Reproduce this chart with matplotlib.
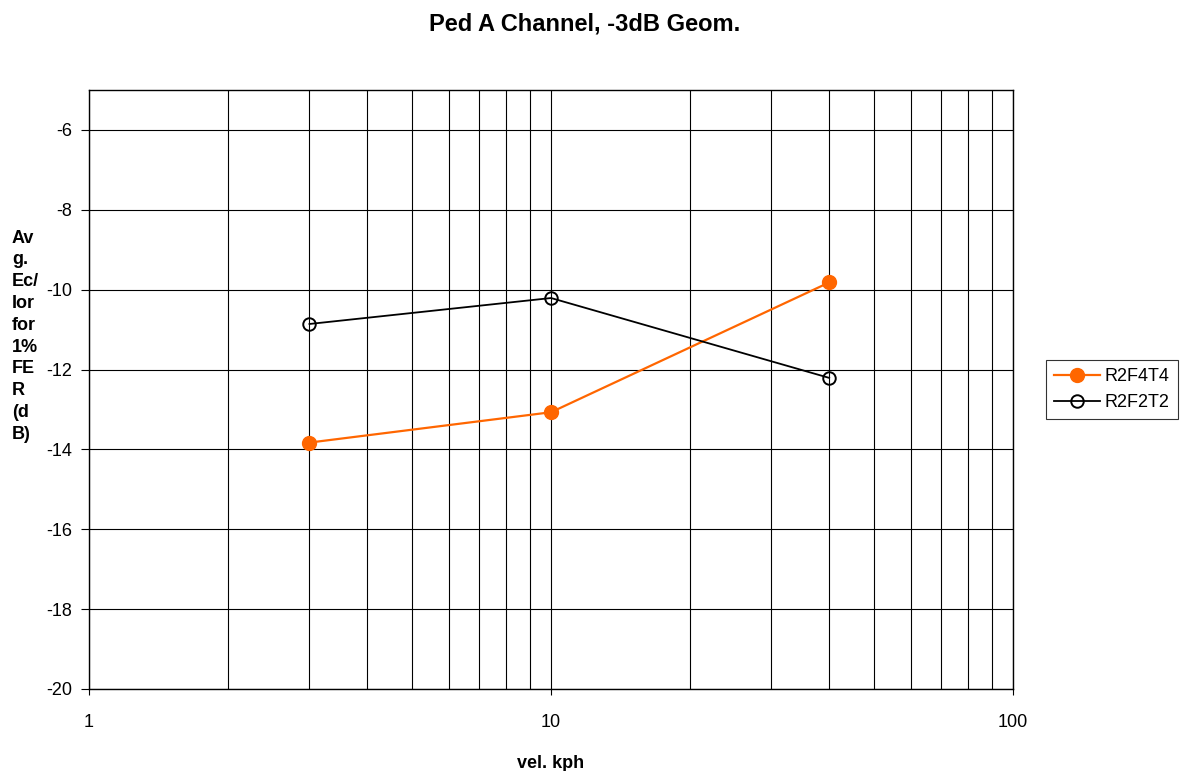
import matplotlib.pyplot as plt
from matplotlib.ticker import LogLocator, NullFormatter, FixedLocator

plt.rcParams['font.family'] = ['Liberation Sans', 'DejaVu Sans']
plt.rcParams['axes.unicode_minus'] = False

# vehicle speed (kph) and average Ec/Ior needed for 1% FER (dB)
speed_kph = [3, 10, 40]
r2f4t4 = [-13.83, -13.07, -9.82]
r2f2t2 = [-10.86, -10.21, -12.21]
y_ticks = [-20, -18, -16, -14, -12, -10, -8, -6]
x_ticks = [1, 10, 100]

fig = plt.figure(figsize=(11.84, 7.71), dpi=100)
ax = fig.add_axes([0.0752, 0.1064, 0.7804, 0.7769])

ax.plot(speed_kph, r2f4t4, '-o', color='#FF6600', lw=1.6, markersize=10,
        label='R2F4T4', zorder=3)
ax.plot(speed_kph, r2f2t2, '-o', color='black', lw=1.3, markersize=9,
        markerfacecolor='none', markeredgewidth=1.4, label='R2F2T2', zorder=3)

ax.set_xscale('log')
ax.set_xlim(1, 100)
ax.set_ylim(-20, -5)
ax.yaxis.set_major_locator(FixedLocator(y_ticks))
ax.xaxis.set_minor_locator(LogLocator(base=10, subs=range(2, 10)))
ax.xaxis.set_minor_formatter(NullFormatter())
ax.set_xticks(x_ticks)
ax.set_xticklabels([str(v) for v in x_ticks])

ax.grid(True, which='major', color='black', lw=0.8)
ax.grid(True, which='minor', axis='x', color='black', lw=0.8)
ax.tick_params(axis='y', which='major', length=6, width=0.8, labelsize=13, pad=6)
ax.tick_params(axis='x', which='major', length=4, width=0.8, labelsize=13, pad=14)
ax.tick_params(axis='x', which='minor', length=0)
for s in ax.spines.values():
    s.set_linewidth(1.0)

ax.set_xlabel('vel. kph', fontsize=13, fontweight='bold', labelpad=17)
fig.text(0.494, 0.969, 'Ped A Channel, -3dB Geom.', ha='center', va='center',
         fontsize=17, fontweight='bold')
fig.text(0.010, 0.564, 'Av\ng.\nEc/\nIor\nfor\n1%\nFE\nR\n(d\nB)',
         ha='left', va='center', fontsize=13, fontweight='bold', linespacing=1.37)

leg = ax.legend(loc='center left', bbox_to_anchor=(1.036, 0.5), fontsize=13,
                frameon=True, fancybox=False, edgecolor='black',
                borderpad=0.45, handlelength=2.5, handletextpad=0.3,
                labelspacing=0.5, borderaxespad=0)
leg.get_frame().set_linewidth(0.8)

fig.savefig('out.png', dpi=100)
